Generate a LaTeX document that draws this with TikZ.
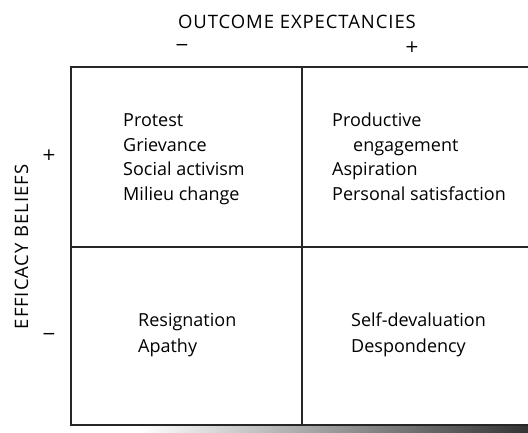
\documentclass[tikz,border=0pt]{standalone}
\usepackage{fontspec}
\setmainfont{Open Sans}
\newfontfamily\symfont{DejaVu Sans}
\newfontfamily\capsfont[LetterSpace=5]{Open Sans}
\begin{document}
\begin{tikzpicture}[x=1pt,y=-1pt,
  txt/.style={inner sep=0pt, anchor=base west, font=\fontsize{18}{21}\selectfont, text=black},
  hdr/.style={inner sep=0pt, anchor=base, font=\capsfont\fontsize{18.5}{21}\selectfont, text=black},
  sgn/.style={inner sep=0pt, anchor=center, font=\symfont\fontsize{17}{19}\selectfont, text=black},
  gridline/.style={draw=black!85, line width=1.4pt}]
\useasboundingbox (0,0) rectangle (528,432);
% scan shadow band
\shade[left color=white, right color=black!80] (140,426) rectangle (528,432);
% grid
\coordinate (tl) at (71,67);
\coordinate (tm) at (302,67);
\coordinate (tr) at (530,67);
\coordinate (ml) at (71,247);
\coordinate (mr) at (530,247);
\coordinate (bl) at (71,425);
\coordinate (bm) at (302,425);
\coordinate (br) at (530,425);
\draw[gridline] (tr) -- (tl) -- (bl) -- (br);
\draw[gridline] (tm) -- (bm);
\draw[gridline] (ml) -- (mr);
% headings
\node[hdr] (oe) at (297,28) {OUTCOME EXPECTANCIES};
\node[sgn] (oem) at (182,47) {−};
\node[sgn] (oep) at (412,47) {+};
\node[hdr, rotate=90] (eb) at (28,247) {EFFICACY BELIEFS};
\node[sgn] (ebp) at (49,155) {+};
\node[sgn] (ebm) at (49,336) {−};
% upper left
\node[txt] (a1) at (123,126) {Protest};
\node[txt] (a2) at (123,151) {Grievance};
\node[txt] (a3) at (123,175) {Social activism};
\node[txt] (a4) at (123,200) {Milieu change};
% upper right
\node[txt] (b1) at (332,126) {Productive};
\node[txt] (b2) at (353,151) {engagement};
\node[txt] (b3) at (332,175) {Aspiration};
\node[txt] (b4) at (332,200) {Personal satisfaction};
% lower left
\node[txt] (c1) at (138,326) {Resignation};
\node[txt] (c2) at (138,352) {Apathy};
% lower right
\node[txt] (d1) at (351,326) {Self-devaluation};
\node[txt] (d2) at (351,352) {Despondency};
\end{tikzpicture}
\end{document}
